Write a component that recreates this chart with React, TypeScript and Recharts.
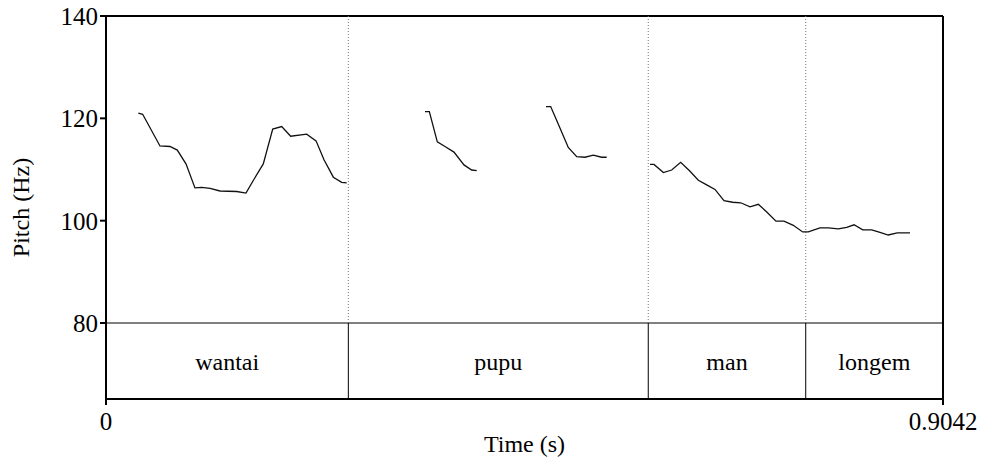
import React from 'react';
import { LineChart, Line, XAxis, YAxis, ReferenceLine, ReferenceArea } from 'recharts';

// pitch track, one array per voiced stretch: [time (s), pitch (Hz)]
const wantaiPitch: [number, number][] = [
  [0.0349, 121.0], [0.0396, 120.8], [0.0583, 114.6], [0.0691, 114.5], [0.077, 113.8],
  [0.0864, 111.1], [0.0961, 106.4], [0.1034, 106.5], [0.1124, 106.3], [0.1232, 105.8],
  [0.1412, 105.7], [0.1512, 105.4], [0.1599, 108.1], [0.1699, 111.1], [0.1801, 117.9],
  [0.1898, 118.4], [0.1995, 116.5], [0.2168, 116.9], [0.2269, 115.6], [0.2355, 111.9],
  [0.2456, 108.5], [0.2546, 107.5], [0.26, 107.4],
];
const pupuPitchA: [number, number][] = [
  [0.3446, 121.3], [0.3493, 121.3], [0.3579, 115.4], [0.3662, 114.5], [0.3759, 113.4],
  [0.3867, 110.9], [0.3951, 109.9], [0.4005, 109.8],
];
const pupuPitchB: [number, number][] = [
  [0.4753, 122.3], [0.4804, 122.3], [0.4897, 118.4], [0.4994, 114.3], [0.5085, 112.5],
  [0.5175, 112.4], [0.5264, 112.8], [0.5355, 112.4], [0.5409, 112.4],
];
const manLongemPitch: [number, number][] = [
  [0.5877, 111.0], [0.592, 111.0], [0.6021, 109.4], [0.6111, 109.9], [0.6208, 111.4],
  [0.6301, 109.8], [0.6399, 107.9], [0.6489, 107.0], [0.6579, 106.1], [0.6676, 103.9],
  [0.677, 103.6], [0.6857, 103.5], [0.6957, 102.7], [0.7047, 103.2], [0.7138, 101.7],
  [0.7238, 99.9], [0.7324, 99.9], [0.7425, 99.1], [0.7526, 97.8], [0.7587, 97.8],
  [0.7713, 98.6], [0.7803, 98.6], [0.7911, 98.4], [0.8002, 98.7], [0.8081, 99.2],
  [0.8175, 98.2], [0.8272, 98.2], [0.8361, 97.7], [0.8451, 97.2], [0.8548, 97.6],
  [0.8686, 97.6],
];

// text grid tier
const wordLabels = ['wantai', 'pupu', 'man', 'longem'];
const wordBounds = [0, 0.2618, 0.5858, 0.7559, 0.9042];

const xTicks = [0, 0.9042];
const yTicks = [80, 100, 120, 140];

const T_END = 0.9042;
const HZ_MIN = 65.15; // bottom of tier box
const HZ_MAX = 140;
const TIER_TOP = 80;

const tickTxt = { fontFamily: '"Liberation Serif"', fontSize: 25 };
const txt = { fontFamily: '"Liberation Serif"', fontSize: 24 };
const toPts = (arr: [number, number][]) => arr.map(([t, hz]) => ({ t, hz }));
const segments = [wantaiPitch, pupuPitchA, pupuPitchB, manLongemPitch].map(toPts);

const XTick = ({ x, y, payload }: any) => (
  <text x={x} y={y} dy="0.71em" textAnchor="middle" fill="#000" style={tickTxt}>
    {payload.value === 0 ? '0' : payload.value.toFixed(4)}
  </text>
);
const YTick = ({ x, y, payload }: any) => (
  <text x={x} y={y} dy="0.355em" textAnchor="end" fill="#000" style={tickTxt}>
    {payload.value}
  </text>
);

export default function App() {
  return (
    <div style={{ position: 'absolute', left: 0, top: 0, width: 982, height: 468, background: '#fff' }}>
      <LineChart width={982} height={468} margin={{ top: 16, right: 39, bottom: 0, left: 0 }}>
        <XAxis
          dataKey="t"
          type="number"
          domain={[0, T_END]}
          ticks={xTicks}
          height={69}
          stroke="#000"
          strokeWidth={2}
          tickSize={6}
          tickMargin={7}
          tick={<XTick />}
          allowDataOverflow
          label={{
            content: ({ viewBox }: any) => (
              <text x={viewBox.x + viewBox.width / 2} y={viewBox.y + 53} textAnchor="middle"
                style={txt} fill="#000">Time (s)</text>
            ),
          }}
        />
        <YAxis
          type="number"
          domain={[HZ_MIN, HZ_MAX]}
          ticks={yTicks}
          width={106}
          stroke="#000"
          strokeWidth={2}
          tickSize={6}
          tickMargin={2}
          tick={<YTick />}
          allowDataOverflow
          label={{
            content: ({ viewBox }: any) => {
              const cx = 29;
              const cy = viewBox.y + viewBox.height / 2;
              return (
                <text x={cx} y={cy} transform={`rotate(-90 ${cx} ${cy})`} textAnchor="middle"
                  style={txt} fill="#000">Pitch (Hz)</text>
              );
            },
          }}
        />

        {/* box: top and right sides */}
        <ReferenceLine y={HZ_MAX} stroke="#000" strokeWidth={2} ifOverflow="visible" />
        <ReferenceLine x={T_END} stroke="#000" strokeWidth={2} ifOverflow="visible" />
        <ReferenceLine y={TIER_TOP} stroke="#000" strokeWidth={1} />

        {wordBounds.slice(1, -1).map((b) => (
          <ReferenceLine key={`d${b}`} segment={[{ x: b, y: TIER_TOP }, { x: b, y: HZ_MAX }]}
            stroke="#777" strokeWidth={1} strokeDasharray="1 2" />
        ))}
        {wordBounds.slice(1, -1).map((b) => (
          <ReferenceLine key={`s${b}`} segment={[{ x: b, y: HZ_MIN }, { x: b, y: TIER_TOP }]}
            stroke="#000" strokeWidth={1} />
        ))}
        {wordLabels.map((w, i) => (
          <ReferenceArea key={w} x1={wordBounds[i]} x2={wordBounds[i + 1]} y1={HZ_MIN} y2={TIER_TOP}
            fill="none" stroke="none"
            label={{
              content: ({ viewBox }: any) => (
                <text x={viewBox.x + viewBox.width / 2} y={viewBox.y + viewBox.height / 2} dy="0.355em"
                  textAnchor="middle" fill="#000" style={txt}>{w}</text>
              ),
            }} />
        ))}

        {segments.map((seg, i) => (
          <Line key={i} data={seg} dataKey="hz" type="linear" stroke="#111" strokeWidth={1.3}
            dot={false} activeDot={false} isAnimationActive={false} />
        ))}
      </LineChart>
    </div>
  );
}
